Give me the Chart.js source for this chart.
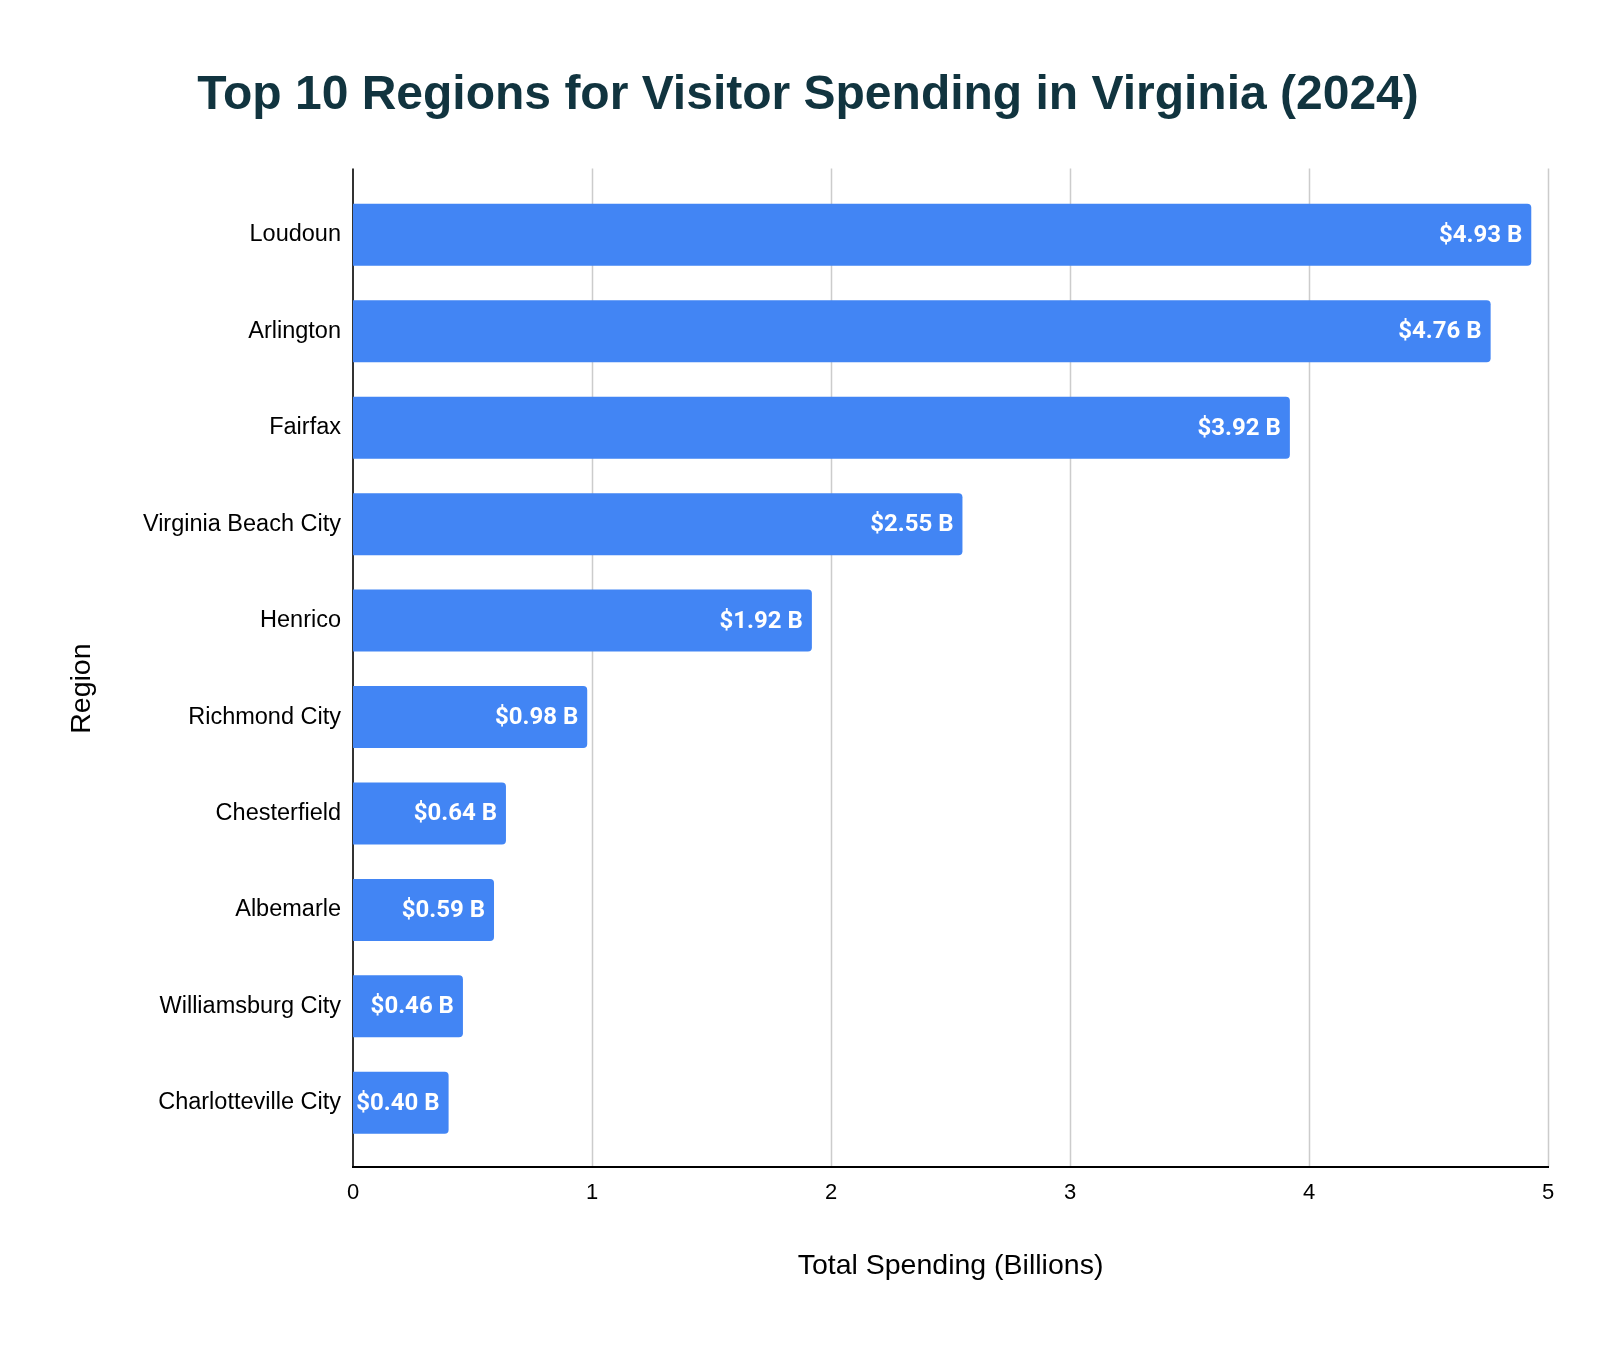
<!DOCTYPE html>
<html>
<head>
<meta charset="utf-8">
<script src="https://cdn.jsdelivr.net/npm/chart.js@4.4.1/dist/chart.umd.min.js"></script>
<style>
	body { margin: 0; background: #fff; }
	canvas { display: block; }
</style>
</head>
<body>
<canvas id="spendChart" width="1616" height="1348"></canvas>
<script>
var regions = ['Loudoun', 'Arlington', 'Fairfax', 'Virginia Beach City', 'Henrico',
	'Richmond City', 'Chesterfield', 'Albemarle', 'Williamsburg City', 'Charlotteville City'];
var spending = [4.93, 4.76, 3.92, 2.55, 1.92, 0.98, 0.64, 0.59, 0.46, 0.40];
var xTicks = [0, 1, 2, 3, 4, 5];

// grid + axis lines run a bit past the bar area, like the original
var frameLines = {
	id: 'frameLines',
	beforeDatasetsDraw: function(chart) {
		var c = chart.ctx, a = chart.chartArea, x = chart.scales.x;
		var top = a.top - 18, bottom = a.bottom + 16;
		c.save();
		c.strokeStyle = '#cccccc';
		c.lineWidth = 1.5;
		xTicks.forEach(function(t) {
			if (t === 0) return;
			var px = Math.round(x.getPixelForValue(t)) + 0.5;
			c.beginPath();
			c.moveTo(px, top);
			c.lineTo(px, bottom);
			c.stroke();
		});
		c.lineWidth = 2;
		c.strokeStyle = '#333333';
		var x0 = x.getPixelForValue(0);
		c.beginPath();
		c.moveTo(x0, top);
		c.lineTo(x0, bottom);
		c.stroke();
		c.strokeStyle = '#000000';
		c.beginPath();
		c.moveTo(x0 - 1, bottom);
		c.lineTo(x.getPixelForValue(5) + 1, bottom);
		c.stroke();
		c.restore();
	}
};

var barLabels = {
	id: 'barLabels',
	afterDatasetsDraw: function(chart) {
		var c = chart.ctx;
		var meta = chart.getDatasetMeta(0);
		c.save();
		c.font = 'bold 24px Roboto';
		c.fillStyle = '#ffffff';
		c.textAlign = 'right';
		c.textBaseline = 'middle';
		meta.data.forEach(function(bar, i) {
			c.fillText('$' + spending[i].toFixed(2) + ' B', bar.x - 9, bar.y + 1);
		});
		c.restore();
	}
};

new Chart(document.getElementById('spendChart'), {
	type: 'bar',
	data: {
		labels: regions,
		datasets: [{
			data: spending,
			backgroundColor: '#4285f4',
			borderRadius: 4,
			borderSkipped: 'start',
			categoryPercentage: 1,
			barPercentage: 0.643
		}]
	},
	options: {
		indexAxis: 'y',
		responsive: false,
		animation: false,
		layout: { padding: 0 },
		plugins: {
			legend: { display: false },
			tooltip: { enabled: false },
			title: {
				display: true,
				text: 'Top 10 Regions for Visitor Spending in Virginia (2024)',
				color: '#11343f',
				font: { family: 'Liberation Sans', size: 48, weight: 'bold' },
				padding: { top: 67, bottom: 62 }
			}
		},
		scales: {
			x: {
				min: 0,
				max: 5,
				afterBuildTicks: function(scale) {
					scale.ticks = xTicks.map(function(v) { return { value: v }; });
				},
				afterFit: function(scale) { scale.height = 197; },
				grid: { display: false, drawTicks: false },
				border: { display: false },
				ticks: {
					color: '#000',
					padding: 29,
					maxRotation: 0,
					font: { family: 'Liberation Sans', size: 22 }
				},
				title: {
					display: true,
					text: 'Total Spending (Billions)',
					color: '#000',
					font: { family: 'Liberation Sans', size: 28.5 },
					padding: { top: 0, bottom: 65 }
				}
			},
			y: {
				afterFit: function(scale) { scale.width = 353; },
				grid: { display: false, drawTicks: false },
				border: { display: false },
				ticks: {
					color: '#000',
					padding: 12,
					font: { family: 'Liberation Sans', size: 23.5 }
				},
				title: {
					display: true,
					text: 'Region\u00a0\u00a0\u00a0\u00a0\u00a0',
					color: '#000',
					font: { family: 'Liberation Sans', size: 28.5 },
					padding: { top: 65, bottom: 0 }
				}
			},
			// empty right-hand axis: keeps the plot off the right edge without moving the title
			pad: {
				type: 'linear',
				position: 'right',
				afterFit: function(scale) { scale.width = 68; },
				grid: { display: false },
				border: { display: false },
				ticks: { display: false }
			}
		}
	},
	plugins: [frameLines, barLabels]
});
</script>
</body>
</html>
